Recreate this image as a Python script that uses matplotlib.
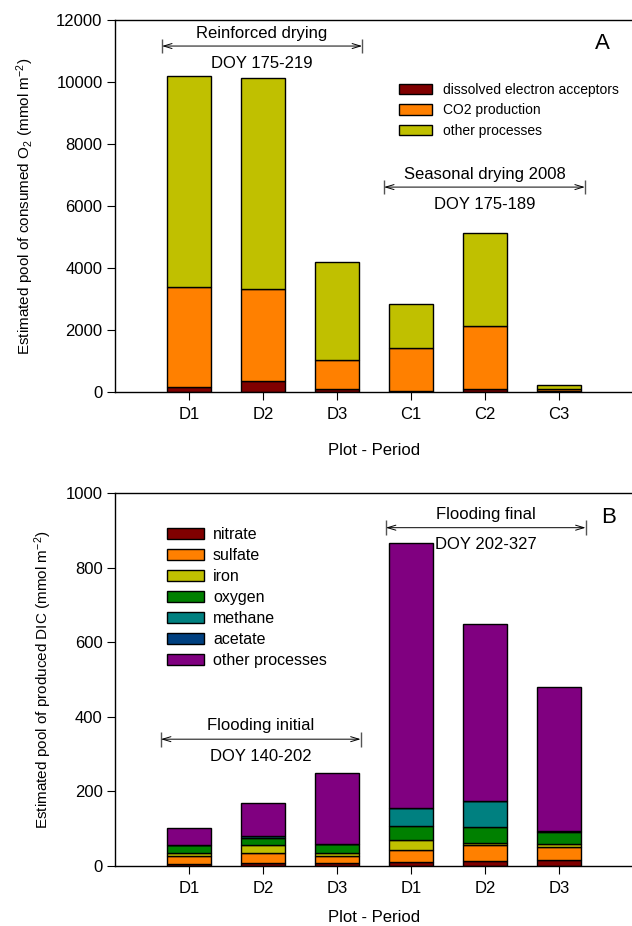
import matplotlib
matplotlib.use("Agg")
import matplotlib.pyplot as plt
import numpy as np

plt.rcParams["font.family"] = ["Liberation Sans", "DejaVu Sans"]
plt.rcParams["mathtext.fontset"] = "custom"
plt.rcParams["mathtext.rm"] = "Liberation Sans"
plt.rcParams["mathtext.it"] = "Liberation Sans:italic"
plt.rcParams["mathtext.bf"] = "Liberation Sans:bold"

# panel A - consumed O2 (mmol m-2)
labels_a = ["D1", "D2", "D3", "C1", "C2", "C3"]
dissolved = [170, 370, 110, 20, 90, 40]
co2_prod = [3220, 2950, 910, 1400, 2050, 60]
other_a = [6810, 6810, 3180, 1420, 3000, 130]
names_a = ["dissolved electron acceptors", "CO2 production", "other processes"]
colors_a = ["#800000", "#FF8000", "#C0C000"]

# panel B - produced DIC (mmol m-2)
labels_b = ["D1", "D2", "D3", "D1", "D2", "D3"]
nitrate = [5, 8, 8, 11, 14, 16]
sulfate = [22, 27, 19, 32, 42, 36]
iron = [7, 22, 7, 27, 7, 8]
oxygen = [22, 18, 25, 36, 42, 30]
methane = [0, 5, 0, 49, 70, 3]
acetate = [0, 1, 0, 0, 0, 0]
other_b = [46, 89, 189, 710, 475, 386]
names_b = ["nitrate", "sulfate", "iron", "oxygen", "methane", "acetate", "other processes"]
colors_b = ["#800000", "#FF8000", "#C0C000", "#008000", "#008080", "#004080", "#800080"]

fig = plt.figure(figsize=(6.32, 9.26), dpi=100)
axA = fig.add_axes([115 / 632, 534 / 926, 518 / 632, 372 / 926])
axB = fig.add_axes([115 / 632, 60 / 926, 518 / 632, 373 / 926])

x = np.arange(1, 7)
w = 0.6


def stack(ax, series, colors, names):
    bottom = np.zeros(len(x))
    for vals, c, n in zip(series, colors, names):
        ax.bar(x, vals, w, bottom=bottom, color=c, edgecolor="black",
               linewidth=1.0, label=n)
        bottom += np.array(vals)


def style(ax, labels, ymax, step, xpad):
    ax.set_xlim(0, 7)
    ax.set_ylim(0, ymax)
    ax.set_xticks(x)
    ax.set_xticklabels(labels, fontsize=12)
    ax.set_yticks(np.arange(0, ymax + 1, step))
    ax.tick_params(axis="y", labelsize=12, direction="out", length=6, width=0.8, pad=3)
    ax.tick_params(axis="x", direction="out", length=6, width=0.8, pad=5)
    for s in ax.spines.values():
        s.set_linewidth(1.0)
    ax.set_xlabel("Plot - Period", fontsize=12, labelpad=xpad)


def span(ax, x0, x1, y, yh, txt, ytxt, doy, ydoy, fs=12):
    ax.annotate("", xy=(x1, y), xytext=(x0, y),
                arrowprops=dict(arrowstyle="<->,head_length=0.6,head_width=0.18",
                                color="black", lw=0.7, shrinkA=0, shrinkB=0))
    ax.vlines([x0, x1], y - yh, y + yh, color="#555555", lw=1.0)
    ax.text((x0 + x1) / 2, ytxt, txt, ha="center", va="center", fontsize=fs)
    ax.text((x0 + x1) / 2, ydoy, doy, ha="center", va="center", fontsize=fs)


# panel A
stack(axA, [dissolved, co2_prod, other_a], colors_a, names_a)
style(axA, labels_a, 12000, 2000, 15)
axA.set_ylabel("Estimated pool of consumed O$_2$ (mmol m$^{-2}$)", fontsize=11)
axA.yaxis.set_label_coords(-0.152, 0.5)
span(axA, 0.635, 3.34, 11160, 220, "Reinforced drying", 11560, "DOY 175-219", 10610)
span(axA, 3.635, 6.35, 6610, 230, "Seasonal drying 2008", 7030, "DOY 175-189", 6060)
axA.text(6.58, 11250, "A", fontsize=16, ha="center", va="center")
axA.legend(loc="upper left", bbox_to_anchor=(0.537, 0.846), frameon=False,
           fontsize=10, handlelength=2.4, handleheight=0.8, labelspacing=0.47,
           handletextpad=0.8, borderaxespad=0)

# panel B
stack(axB, [nitrate, sulfate, iron, oxygen, methane, acetate, other_b], colors_b, names_b)
style(axB, labels_b, 1000, 200, 10)
axB.set_ylabel("Estimated pool of produced DIC (mmol m$^{-2}$)", fontsize=11)
axB.yaxis.set_label_coords(-0.117, 0.5)
span(axB, 3.66, 6.36, 907, 20, "Flooding final", 942, "DOY 202-327", 861)
span(axB, 0.62, 3.32, 340, 20, "Flooding initial", 376, "DOY 140-202", 293)
axB.text(6.67, 934, "B", fontsize=16, ha="center", va="center")
axB.legend(loc="upper left", bbox_to_anchor=(0.089, 0.925), frameon=False,
           fontsize=11.5, handlelength=2.3, handleheight=0.7, labelspacing=0.37,
           handletextpad=0.55, borderaxespad=0)

fig.savefig("out.png", dpi=100)
